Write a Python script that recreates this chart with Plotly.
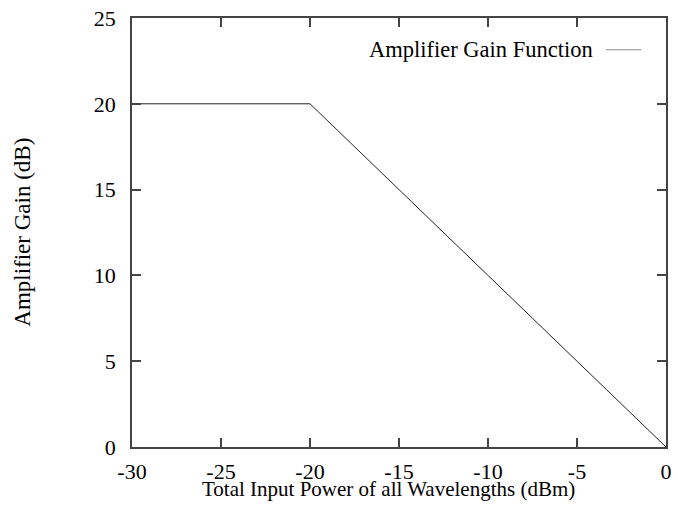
import plotly.graph_objects as go

# Data
input_power = [-30, -20, 0]      # dBm
gain = [20, 20, 0]               # dB
x_ticks = [-30, -25, -20, -15, -10, -5, 0]
x_tick_labels = ["-30", "-25", "-20", "-15", "-10", "-5", "0"]
y_ticks = [0, 5, 10, 15, 20, 25]
y_tick_labels = ["0", "5", "10", "15", "20", "25"]
series_name = "Amplifier Gain Function"
x_title = "Total Input Power of all Wavelengths (dBm)"
y_title = "Amplifier Gain (dB)"

FONT = "Liberation Serif, Times New Roman, serif"
FS = 22
W, H = 678, 506
L, R, T, B = 132, 6, 15, 59
PW, PH = W - L - R, H - T - B

fig = go.Figure()
fig.add_trace(go.Scatter(x=input_power, y=gain, mode="lines",
                         line=dict(color="#222222", width=1),
                         name=series_name, showlegend=False))

axis_common = dict(showline=True, linecolor="#444444", linewidth=1.5,
                   mirror="ticks", ticks="inside", ticklen=9, tickwidth=1.5,
                   tickcolor="#444444", showgrid=False, zeroline=False,
                   tickfont=dict(family=FONT, size=FS, color="#000000"))

fig.update_layout(
    width=W, height=H,
    margin=dict(l=L, r=R, t=T, b=B),
    paper_bgcolor="white", plot_bgcolor="white",
    font=dict(family=FONT, size=FS, color="#000000"),
    xaxis=dict(range=[-30, 0], tickvals=x_ticks, ticktext=x_tick_labels,
               ticklabelstandoff=4, **axis_common),
    yaxis=dict(range=[0, 25], tickvals=y_ticks, ticktext=y_tick_labels,
               ticklabelstandoff=10, **axis_common),
    showlegend=False,
)

# axis titles
fig.add_annotation(text=x_title, xref="paper", yref="paper",
                   x=(391 - L) / PW, y=-(503 - (H - B)) / PH,
                   xanchor="center", yanchor="bottom", showarrow=False,
                   font=dict(family=FONT, size=21))
fig.add_annotation(text=y_title, xref="paper", yref="paper",
                   x=-(L - 21) / PW, y=(H - B - 231) / PH, textangle=-90,
                   xanchor="center", yanchor="middle", showarrow=False,
                   font=dict(family=FONT, size=23))

# key (gnuplot-style: text then sample line)
ky = 1 - (47 - T) / PH
fig.add_annotation(text=series_name, xref="paper", yref="paper",
                   x=(600 - L) / PW, y=ky, xanchor="right", yanchor="middle",
                   showarrow=False, font=dict(family=FONT, size=22.5))
fig.add_shape(type="line", xref="paper", yref="paper",
              x0=(611 - L) / PW, x1=(647 - L) / PW, y0=ky, y1=ky,
              line=dict(color="#888888", width=1))

fig.write_html("out.html")
